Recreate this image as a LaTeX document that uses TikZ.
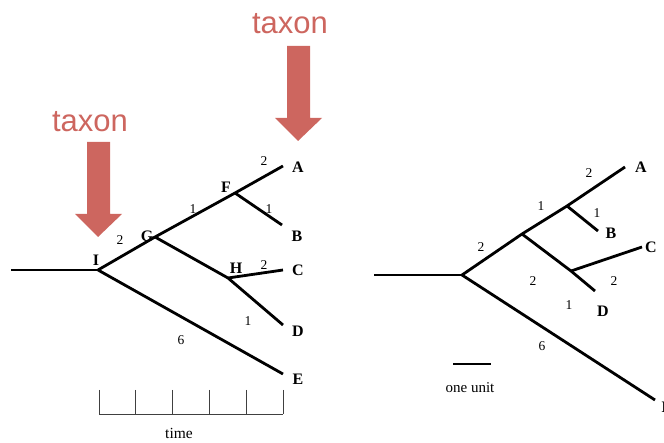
\documentclass[tikz,border=0pt]{standalone}
\usepackage{fontspec}
\setmainfont{Liberation Serif}
\newfontfamily\arial{Liberation Sans}
\definecolor{taxred}{HTML}{CD665F}
\begin{document}
\begin{tikzpicture}[x=1pt,y=-1pt,
  br/.style={line width=2.8pt},
  leaf/.style={font=\fontsize{16}{16}\selectfont\bfseries, inner sep=0pt},
  num/.style={font=\fontsize{13.5}{13.5}\selectfont, inner sep=0pt},
  arrowbody/.style={fill=taxred, draw=none},
  taxlbl/.style={font=\arial\fontsize{31}{31}\selectfont, text=taxred, inner sep=0pt},
  scl/.style={line width=0.8pt, draw=black!75}]
\useasboundingbox (0,0) rectangle (664,443);
% ---------- left tree ----------
\coordinate (r0) at (11,270);
\coordinate (I) at (98,270);
\coordinate (G) at (155,237);
\coordinate (F) at (235,193);
\coordinate (H) at (228,278);
\coordinate (Ae) at (283,166);
\coordinate (Be) at (282,225);
\coordinate (Ce) at (283,270);
\coordinate (De) at (283,325);
\coordinate (Ee) at (283,374);
\draw[br] (r0) -- (I);
\draw[br] (I) -- (G) -- (F) -- (Ae);
\draw[br] (F) -- (Be);
\draw[br] (G) -- (H) -- (De);
\draw[br] (H) -- (Ce);
\draw[br] (I) -- (Ee);
\node[leaf] (lI) at (96,260) {I};
\node[leaf] (lG) at (147,236) {G};
\node[leaf] (lF) at (226,187) {F};
\node[leaf] (lH) at (236,268) {H};
\node[leaf] (lA) at (298,167) {A};
\node[leaf] (lB) at (297,236) {B};
\node[leaf] (lC) at (298,270) {C};
\node[leaf] (lD) at (298,331) {D};
\node[leaf] (lE) at (298,379) {E};
\node[num] (n1) at (120,240) {2};
\node[num] (n2) at (193,209) {1};
\node[num] (n3) at (264,161) {2};
\node[num] (n4) at (269,209) {1};
\node[num] (n5) at (264,265) {2};
\node[num] (n6) at (248,321) {1};
\node[num] (n7) at (181,340) {6};
% time scale
\coordinate (t0) at (99,414);
\coordinate (t5) at (283,414);
\draw[scl] (t0) -- (t5);
\foreach \x in {99,135.8,172.6,209.4,246.2,283} \draw[scl] (\x,390) -- (\x,414);
\node[font=\fontsize{15.5}{15.5}\selectfont, inner sep=0pt] (time) at (179,433) {time};
% arrows
\fill[arrowbody] (87,142) -- (110,142) -- (110,214) -- (122,214) -- (98,237) -- (75,214) -- (87,214) -- cycle;
\fill[arrowbody] (287,46) -- (310,46) -- (310,118) -- (322,118) -- (298,141) -- (275,118) -- (287,118) -- cycle;
\node[taxlbl] (tx1) at (90,122) {taxon};
\node[taxlbl] (tx2) at (290,24) {taxon};
% ---------- right tree ----------
\coordinate (s0) at (374,275);
\coordinate (R) at (462,275);
\coordinate (G2) at (522,234);
\coordinate (F2) at (567,206);
\coordinate (H2) at (571,271);
\coordinate (A2) at (625,167);
\coordinate (B2) at (598,231);
\coordinate (C2) at (642,247);
\coordinate (D2) at (595,291);
\coordinate (E2) at (655,400);
\draw[br] (s0) -- (R);
\draw[br] (R) -- (G2) -- (F2) -- (A2);
\draw[br] (F2) -- (B2);
\draw[br] (G2) -- (H2) -- (D2);
\draw[br] (H2) -- (C2);
\draw[br] (R) -- (E2);
\node[leaf] (rA) at (641,167) {A};
\node[leaf] (rB) at (611,233) {B};
\node[leaf] (rC) at (651,247) {C};
\node[leaf] (rD) at (603,311) {D};
\node[leaf] (rE) at (667,407) {E};
\node[num] (m1) at (589,173) {2};
\node[num] (m2) at (541,206) {1};
\node[num] (m3) at (597,213) {1};
\node[num] (m4) at (481,247) {2};
\node[num] (m5) at (533,281) {2};
\node[num] (m6) at (614,281) {2};
\node[num] (m7) at (569,305) {1};
\node[num] (m8) at (542,346) {6};
\coordinate (u0) at (453,364);
\coordinate (u1) at (491,364);
\draw[line width=2.4pt] (u0) -- (u1);
\node[font=\fontsize{15}{15}\selectfont, inner sep=0pt] (unit) at (470,388) {one unit};
\end{tikzpicture}
\end{document}
